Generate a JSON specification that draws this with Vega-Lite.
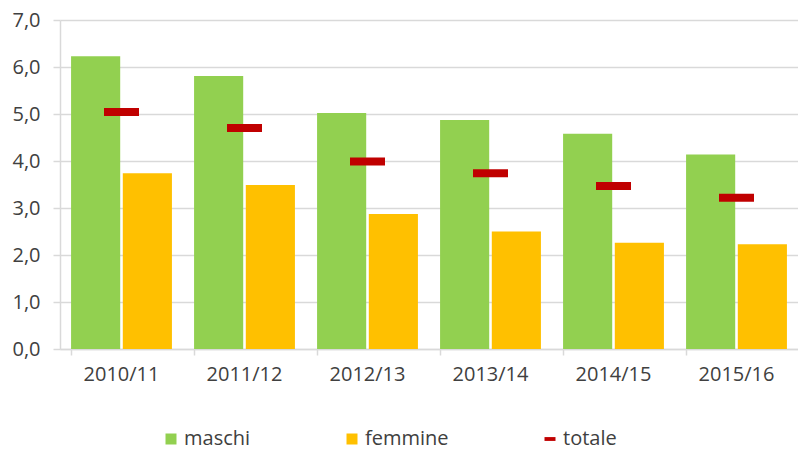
{
  "$schema": "https://vega.github.io/schema/vega-lite/v6.json",
  "autosize": {"type": "none"},
  "padding": {"left": 60, "top": 20, "right": 0, "bottom": 101},
  "width": 738,
  "height": 329,
  "background": "white",
  "config": {
    "font": "Open Sans",
    "view": {"stroke": null},
    "axis": {"labelFont": "Open Sans", "labelFontSize": 20, "labelColor": "#404040", "domainColor": "#d9d9d9", "tickColor": "#d9d9d9", "gridColor": "#d9d9d9", "gridWidth": 1.5, "domainWidth": 1.5, "tickWidth": 1.5, "title": null},
    "legend": {"labelFont": "Open Sans", "labelFontSize": 20, "labelColor": "#404040"}
  },
  "data": {
    "values": [
      {"anno": "2010/11", "serie": "maschi", "valore": 6.23},
      {"anno": "2010/11", "serie": "femmine", "valore": 3.74},
      {"anno": "2010/11", "serie": "totale", "valore": 5.04},
      {"anno": "2011/12", "serie": "maschi", "valore": 5.81},
      {"anno": "2011/12", "serie": "femmine", "valore": 3.49},
      {"anno": "2011/12", "serie": "totale", "valore": 4.70},
      {"anno": "2012/13", "serie": "maschi", "valore": 5.02},
      {"anno": "2012/13", "serie": "femmine", "valore": 2.87},
      {"anno": "2012/13", "serie": "totale", "valore": 3.99},
      {"anno": "2013/14", "serie": "maschi", "valore": 4.87},
      {"anno": "2013/14", "serie": "femmine", "valore": 2.50},
      {"anno": "2013/14", "serie": "totale", "valore": 3.74},
      {"anno": "2014/15", "serie": "maschi", "valore": 4.58},
      {"anno": "2014/15", "serie": "femmine", "valore": 2.26},
      {"anno": "2014/15", "serie": "totale", "valore": 3.47},
      {"anno": "2015/16", "serie": "maschi", "valore": 4.14},
      {"anno": "2015/16", "serie": "femmine", "valore": 2.23},
      {"anno": "2015/16", "serie": "totale", "valore": 3.22}
    ]
  },
  "encoding": {
    "x": {
      "field": "anno", "type": "nominal", "sort": null,
      "scale": {"paddingInner": 0.18, "paddingOuter": 0.09},
      "axis": {"labelAngle": 0, "bandPosition": 0, "tickSize": 6, "labelPadding": 9, "grid": false}
    },
    "y": {
      "field": "valore", "type": "quantitative",
      "scale": {"domain": [0, 7], "nice": false},
      "axis": {"values": [0, 1, 2, 3, 4, 5, 6, 7], "tickSize": 7, "labelPadding": 13, "grid": true, "labelExpr": "replace(format(datum.value, '.1f'), '.', ',')"}
    },
    "color": {
      "field": "serie", "type": "nominal",
      "scale": {"domain": ["maschi", "femmine", "totale"], "range": ["#92D050", "#FFC000", "#C00000"]},
      "legend": {
        "title": null, "orient": "none", "direction": "horizontal", "legendX": 101, "legendY": 409,
        "padding": 0, "columnPadding": 91, "symbolSize": 121, "symbolStrokeWidth": 0, "labelOffset": 3,
        "encode": {"symbols": {"update": {"shape": {"signal": "datum.value === 'totale' ? 'M-1,-0.35H1V0.35H-1Z' : 'square'"}, "strokeWidth": {"value": 0}}}}
      }
    }
  },
  "layer": [
    {
      "transform": [{"filter": "datum.serie !== 'totale'"}],
      "mark": {"type": "bar"},
      "encoding": {
        "xOffset": {"field": "serie", "type": "nominal", "sort": null, "scale": {"domain": ["maschi", "femmine"], "paddingInner": 0.05}}
      }
    },
    {
      "transform": [{"filter": "datum.serie === 'totale'"}],
      "mark": {"type": "tick", "size": 35, "thickness": 8, "opacity": 1}
    }
  ]
}
